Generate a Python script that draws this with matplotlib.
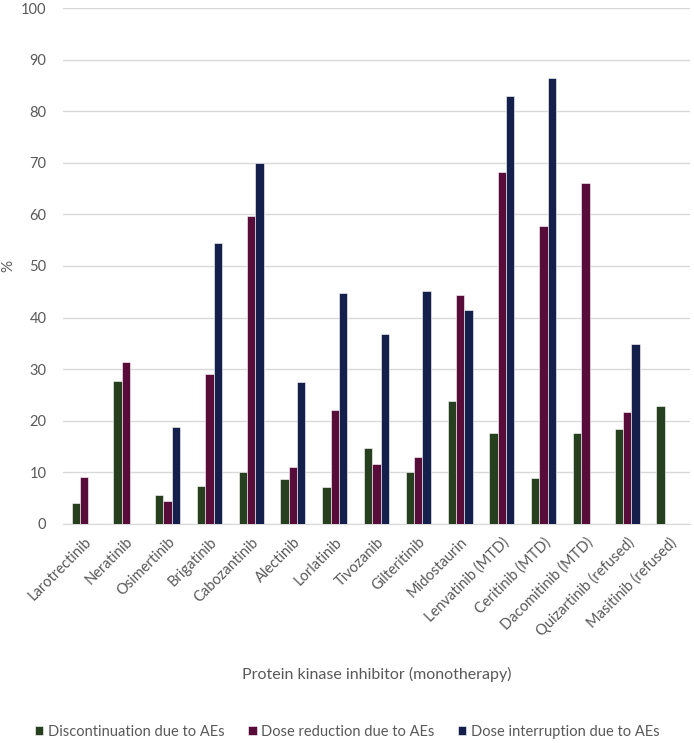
import matplotlib
matplotlib.use("Agg")
import matplotlib.pyplot as plt
import numpy as np

drugs = ["Larotrectinib", "Neratinib", "Osimertinib", "Brigatinib", "Cabozantinib",
         "Alectinib", "Lorlatinib", "Tivozanib", "Gilteritinib", "Midostaurin",
         "Lenvatinib (MTD)", "Ceritinib (MTD)", "Dacomitinib (MTD)",
         "Quizartinib (refused)", "Masitinib (refused)"]
discontinuation = [4.0, 27.6, 5.6, 7.3, 10.0, 8.7, 7.1, 14.7, 10.0, 23.9,
                   17.6, 8.8, 17.6, 18.3, 22.8]
reduction = [9.0, 31.3, 4.4, 29.1, 59.7, 11.0, 22.0, 11.6, 12.9, 44.3,
             68.2, 57.7, 66.1, 21.6, np.nan]
interruption = [np.nan, np.nan, 18.7, 54.4, 69.9, 27.5, 44.7, 36.9, 45.1, 41.5,
                83.0, 86.4, np.nan, 34.9, np.nan]

series = [
    ("Discontinuation due to AEs", discontinuation, "#263F1F"),
    ("Dose reduction due to AEs", reduction, "#580C3A"),
    ("Dose interruption due to AEs", interruption, "#141F4B"),
]

plt.rcParams["font.family"] = ["Lato", "DejaVu Sans"]
grey = "#595959"

fig = plt.figure(figsize=(6.94, 7.43), dpi=100)
ax = fig.add_axes([0.091, 0.295, 0.903, 0.694])

x = np.arange(len(drugs))
w = 0.2
for i, (name, vals, col) in enumerate(series):
    ax.bar(x + (i - 1) * w, vals, width=w, color=col, edgecolor="white",
           linewidth=0.4, label=name, zorder=3)

ax.set_xlim(-0.5, len(drugs) - 0.5)
ax.set_ylim(0, 100)
ax.set_yticks(np.arange(0, 101, 10))
ax.yaxis.grid(True, color="#D9D9D9", linewidth=1.0, zorder=0)
for s in ["top", "right", "left"]:
    ax.spines[s].set_visible(False)
ax.spines["bottom"].set_color("#D9D9D9")
ax.tick_params(axis="both", length=0, colors=grey, labelsize=10.5)
ax.tick_params(axis="y", pad=12)
ax.tick_params(axis="x", pad=8)
ax.set_xticks(x)
ax.set_xticklabels(drugs, rotation=45, ha="right", rotation_mode="anchor")
ax.set_ylabel("%", color=grey, fontsize=11, labelpad=4)
ax.set_xlabel("Protein kinase inhibitor (monotherapy)", color=grey, fontsize=11.5,
              labelpad=20)

fig.legend(loc="lower center", bbox_to_anchor=(0.5, -0.012), ncol=3, frameon=False,
           fontsize=10.5, handlelength=0.6, handleheight=0.6, handletextpad=0.3,
           columnspacing=1.6, labelcolor=grey)

fig.savefig("out.png", dpi=100)
plt.close(fig)
